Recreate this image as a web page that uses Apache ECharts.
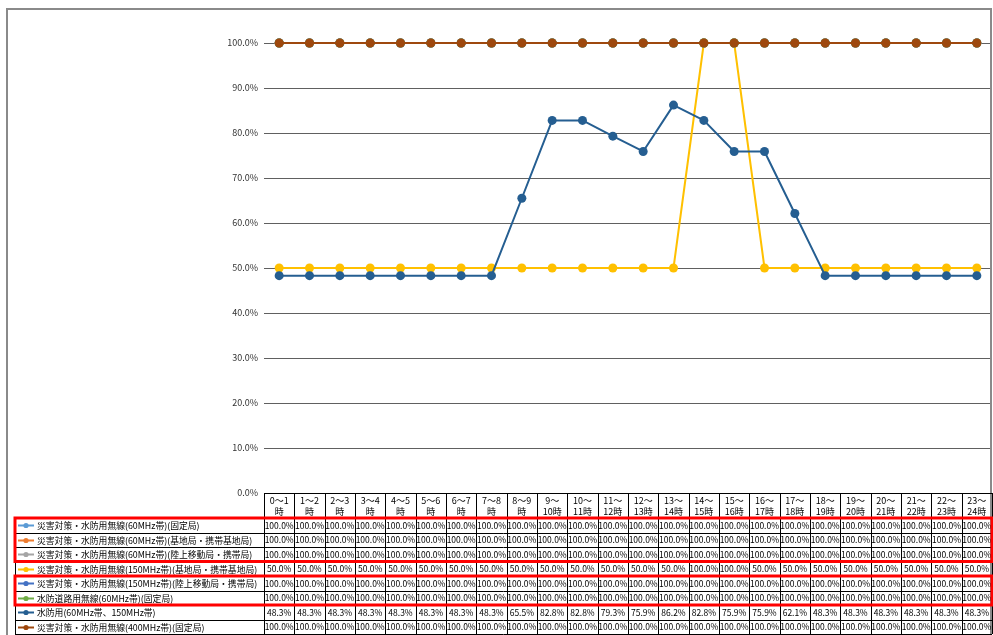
<!DOCTYPE html>
<html><head><meta charset="utf-8">
<script src="https://cdn.jsdelivr.net/npm/echarts@6/dist/echarts.min.js"></script>
<style>html,body{margin:0;padding:0;background:#fff}#c{width:993px;height:635px}</style>
</head><body><div id="c"></div>
<script>
const hourLabels = ['0～1\n時','1～2\n時','2～3\n時','3～4\n時','4～5\n時','5～6\n時','6～7\n時','7～8\n時','8～9\n時','9～\n10時','10～\n11時','11～\n12時','12～\n13時','13～\n14時','14～\n15時','15～\n16時','16～\n17時','17～\n18時','18～\n19時','19～\n20時','20～\n21時','21～\n22時','22～\n23時','23～\n24時'];
const yTicks = [0,10,20,30,40,50,60,70,80,90,100];
const seriesNames = [
  '災害対策・水防用無線(60MHz帯)(固定局)',
  '災害対策・水防用無線(60MHz帯)(基地局・携帯基地局)',
  '災害対策・水防用無線(60MHz帯)(陸上移動局・携帯局)',
  '災害対策・水防用無線(150MHz帯)(基地局・携帯基地局)',
  '災害対策・水防用無線(150MHz帯)(陸上移動局・携帯局)',
  '水防道路用無線(60MHz帯)(固定局)',
  '水防用(60MHz帯、150MHz帯)',
  '災害対策・水防用無線(400MHz帯)(固定局)'
];
const seriesColors = ['#5B9BD5','#ED7D31','#A5A5A5','#FFC000','#4472C4','#70AD47','#255E91','#9E480E'];
const s60Fixed    = [100,100,100,100,100,100,100,100,100,100,100,100,100,100,100,100,100,100,100,100,100,100,100,100];
const s60Base     = [100,100,100,100,100,100,100,100,100,100,100,100,100,100,100,100,100,100,100,100,100,100,100,100];
const s60Mobile   = [100,100,100,100,100,100,100,100,100,100,100,100,100,100,100,100,100,100,100,100,100,100,100,100];
const s150Base    = [50,50,50,50,50,50,50,50,50,50,50,50,50,50,100,100,50,50,50,50,50,50,50,50];
const s150Mobile  = [100,100,100,100,100,100,100,100,100,100,100,100,100,100,100,100,100,100,100,100,100,100,100,100];
const sRoad60     = [100,100,100,100,100,100,100,100,100,100,100,100,100,100,100,100,100,100,100,100,100,100,100,100];
const sSuibou     = [48.3,48.3,48.3,48.3,48.3,48.3,48.3,48.3,65.5,82.8,82.8,79.3,75.9,86.2,82.8,75.9,75.9,62.1,48.3,48.3,48.3,48.3,48.3,48.3];
const s400Fixed   = [100,100,100,100,100,100,100,100,100,100,100,100,100,100,100,100,100,100,100,100,100,100,100,100];
const seriesValues = [s60Fixed,s60Base,s60Mobile,s150Base,s150Mobile,sRoad60,sSuibou,s400Fixed];
const redGroups = [[0,2],[4,5]];

const FONT = '"Noto Sans CJK JP","Noto Sans CJK SC",sans-serif';
const chart = echarts.init(document.getElementById('c'));
const series = seriesNames.map((n,i)=>({
  name:n, type:'line', data:seriesValues[i], symbol:'circle', symbolSize:9,
  lineStyle:{color:seriesColors[i], width:2}, itemStyle:{color:seriesColors[i]},
  emphasis:{disabled:true}, z:2+i
}));
chart.setOption({
  animation:false,
  grid:{left:264, right:1, top:43, bottom:142},
  xAxis:{type:'category', data:hourLabels, boundaryGap:true,
    axisLine:{show:false}, axisTick:{show:false}, axisLabel:{show:false}},
  yAxis:{type:'value', min:0, max:100, interval:10,
    axisLine:{show:false}, axisTick:{show:false},
    axisLabel:{formatter:v=>v.toFixed(1)+'%', fontFamily:FONT, fontSize:9, color:'#333', margin:6},
    splitLine:{lineStyle:{color:'#606060', width:1}}},
  series
});

function build(){
  const c0 = chart.convertToPixel({xAxisIndex:0}, 0);
  const c1 = chart.convertToPixel({xAxisIndex:0}, 1);
  const colW = c1 - c0;
  const x0 = c0 - colW/2;
  const xEnd = x0 + colW*hourLabels.length;
  const yBase = chart.convertToPixel({yAxisIndex:0}, 0);
  const headerH = 25, rowH = 14.5;
  const tableTop = yBase + headerH;
  const legendLeft = 15;
  const g = [];
  const L = (x1,y1,x2,y2,color,w)=>g.push({type:'line', shape:{x1,y1,x2,y2}, style:{stroke:color||'#000', lineWidth:w||1}, z:50, silent:true});
  const T = (text,x,y,align,size,extra)=>g.push(Object.assign({type:'text', x, y, style:{text, fill:'#000', font:size+'px '+FONT, align, verticalAlign:'middle', textAlign:align, textVerticalAlign:'middle', lineHeight:11}, z:60, silent:true}, extra||{}));
  // outer frame
  g.push({type:'rect', shape:{x:7, y:9, width:984, height:640}, style:{fill:'none', stroke:'#8a8a8a', lineWidth:2}, z:1, silent:true});
  // header
  const r = v=>Math.round(v)+0.5;
  L(x0, r(yBase), xEnd, r(yBase));
  for(let i=0;i<=hourLabels.length;i++){
    const x = r(x0 + i*colW);
    L(x, yBase, x, tableTop + rowH*seriesNames.length);
  }
  hourLabels.forEach((h,i)=>T(h, x0+colW*(i+0.5), yBase+headerH/2+0.5, 'center', 9));
  // rows
  for(let k=0;k<=seriesNames.length;k++){
    const y = r(tableTop + k*rowH);
    L(legendLeft, y, xEnd, y);
  }
  L(legendLeft+0.5, tableTop, legendLeft+0.5, tableTop + rowH*seriesNames.length);
  seriesNames.forEach((n,k)=>{
    const yc = tableTop + rowH*(k+0.5);
    g.push({type:'line', shape:{x1:18,y1:Math.round(yc)+0.5,x2:34,y2:Math.round(yc)+0.5}, style:{stroke:seriesColors[k], lineWidth:2}, z:55, silent:true});
    g.push({type:'circle', shape:{cx:26, cy:Math.round(yc)+0.5, r:2.6}, style:{fill:seriesColors[k]}, z:56, silent:true});
    T(n, 37, yc+0.5, 'left', 8.8);
    seriesValues[k].forEach((v,i)=>T(v.toFixed(1)+'%', x0+colW*(i+0.5), yc+0.5, 'center', 8.5));
  });
  // red boxes
  redGroups.forEach(([a,b])=>{
    g.push({type:'rect', shape:{x:legendLeft, y:tableTop+rowH*a, width:xEnd-legendLeft, height:rowH*(b-a+1)}, style:{fill:'none', stroke:'#FF0000', lineWidth:3}, z:70, silent:true});
  });
  chart.setOption({graphic:{elements:g}});
}
build();
</script>
</body></html>
